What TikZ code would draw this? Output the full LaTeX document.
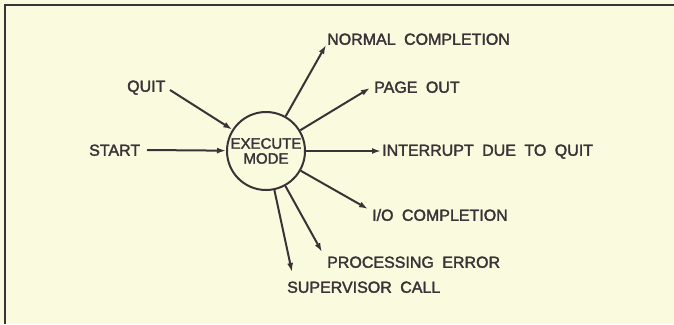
\documentclass[tikz,border=0pt]{standalone}
\usepackage{fontspec}
\setmainfont{Liberation Sans}
\newfontfamily\letterfont{Liberation Sans}[WordSpace=1.9, FakeBold=2]
\usetikzlibrary{arrows.meta}
\definecolor{paper}{RGB}{250,250,222}
\definecolor{ink}{RGB}{58,50,54}
\tikzset{
  ink line/.style={draw=ink, line width=2pt},
  arr/.style={ink line, -{Latex[length=9pt,width=6pt]}},
  lbl/.style={font=\letterfont\fontsize{16}{16}\selectfont, text=ink, inner sep=0pt,
              text height=11.5pt, text depth=0pt, anchor=west},
  state/.style={circle, ink line, minimum size=78pt, inner sep=0pt, align=center,
                font=\letterfont\fontsize{15}{18}\selectfont, text=ink}
}
\begin{document}
\begin{tikzpicture}[x=1pt, y=-1pt]
  \useasboundingbox[fill=paper] (0,0) rectangle (674,324);
  % frame edges
  \draw[ink line, line width=2.4pt] (674,5) -- (5,5) -- (5,324);

  % central state
  \node[state] (em) at (266,151) {EXECUTE\\[-3pt]MODE};

  % inputs
  \node[lbl] (quit) at (127,86) {QUIT};
  \node[lbl] (start) at (89,150) {START};
  \coordinate (quitend) at (170,90);
  \coordinate (startend) at (147,150);
  \draw[arr] (quitend) -- (em);
  \draw[arr] (startend) -- (em);

  % outputs
  \node[lbl] (nc) at (327,39) {NORMAL COMPLETION};
  \node[lbl] (po) at (374,87) {PAGE OUT};
  \node[lbl] (iq) at (382,150) {INTERRUPT DUE TO QUIT};
  \node[lbl] (io) at (372,215) {I/O COMPLETION};
  \node[lbl] (pe) at (327,262) {PROCESSING ERROR};
  \node[lbl] (sc) at (287,287) {SUPERVISOR CALL};

  \coordinate (ncend) at (326,45);
  \coordinate (poend) at (370,88);
  \coordinate (iqend) at (381,151);
  \coordinate (ioend) at (368,209);
  \coordinate (peend) at (322,252);
  \coordinate (scend) at (292,272);

  \draw[arr] (em) -- (ncend);
  \draw[arr] (em) -- (poend);
  \draw[arr] (em) -- (iqend);
  \draw[arr] (em) -- (ioend);
  \draw[arr] (em) -- (peend);
  \draw[arr] (em) -- (scend);
\end{tikzpicture}
\end{document}
